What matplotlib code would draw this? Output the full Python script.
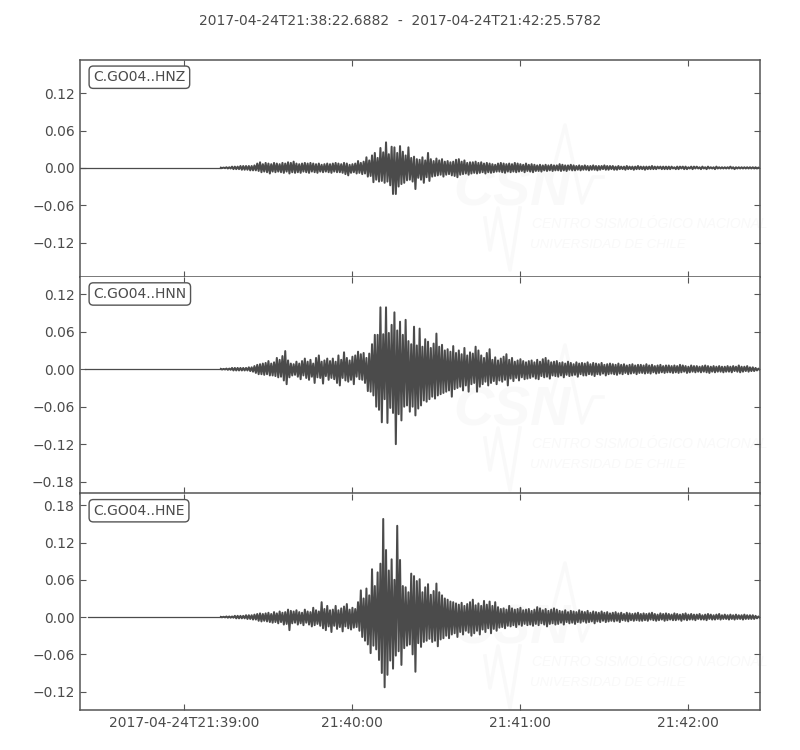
import numpy as np
import matplotlib
matplotlib.use('Agg')
import matplotlib.pyplot as plt

# 波形峰值，单位 1e-3，每秒一对，从 21:39:13 开始
hnz_up = [0.3,0.5,1,1,2,2,2,3,3,3, 3,3,4,7,9,6,8,7,6,8, 7,6,8,7,9,8,10,7,6,7, 8,7,8,7,6,7,5,6,7,6,
          7,8,7,6,8,7,5,6,7,11, 8,10,17,12,20,24,16,32,25,41, 22,34,33,24,35,26,20,33,16,18, 14,13,17,12,24,14,11,15,12,14,
          10,11,9,10,13,14,10,12,8,9, 9,10,8,9,7,8,7,6,5,7, 8,7,6,7,6,8,7,6,5,7, 5,6,5,4,5,4,5,4,5,4,
          4,6,5,4,4,5,4,3,4,3, 4,3,3,4,3,3,3,4,3,3, 3,2,3,2,2,3,2,2,2,3, 2,2,2,2,3,2,2,2,2,2,
          2,2,1,2,2,2,2,1,2,2, 2,1,2,1,2,1,1,2,1,1, 1,1,2,1,1,1,1,1,1,1, 1,1,0.5]
hnz_low = [0.3,0.5,1,1,2,2,2,3,3,3, 4,4,4,5,7,6,7,9,6,7, 6,7,8,6,9,7,8,7,8,6, 7,8,6,7,8,6,7,6,7,8,
           6,7,7,8,10,12,8,7,9,8, 10,9,14,13,23,19,22,21,24,22, 28,42,42,30,26,24,20,19,22,34, 16,19,24,15,21,14,13,12,11,14,
           11,10,12,13,15,11,10,9,11,9, 8,9,8,7,9,7,8,7,6,6, 7,8,6,7,6,7,6,5,7,5, 6,7,5,5,6,4,5,4,5,4,
           4,5,4,5,3,4,4,3,4,3, 3,4,3,3,4,3,2,3,3,2, 3,3,2,2,3,2,2,3,2,2, 2,3,2,2,2,2,1,2,2,2,
           2,1,2,2,1,2,2,1,2,1, 1,2,1,2,1,1,2,1,1,1, 1,1,1,2,1,1,1,1,1,1, 1,1,0.5]

hnn_up = [0.5,0.5,1,1,2,2,2,2,2,2, 3,3,5,7,8,9,10,13,9,11, 18,15,21,29,14,9,8,12,9,13, 17,12,15,9,18,22,12,14,17,13,
          17,12,22,15,27,18,14,20,22,28, 24,26,18,25,40,55,55,99,56,99, 58,71,91,62,76,55,79,45,40,68, 38,65,36,48,44,34,41,57,36,39,
          30,32,28,37,26,30,24,34,22,27, 25,36,30,22,18,26,32,15,19,14, 17,20,24,15,18,12,14,16,13,11, 13,14,11,15,12,16,18,14,11,12,
          13,10,11,9,12,10,8,11,9,10, 9,11,8,10,9,8,10,7,8,9, 8,7,9,7,8,6,7,8,6,7, 7,6,8,6,7,5,6,7,5,6,
          6,5,6,5,7,6,5,4,6,5, 5,4,5,6,5,4,5,4,5,4, 4,5,4,5,4,6,4,4,5,3, 3,2,1]
hnn_low = [0.5,0.5,1,1,2,2,2,2,2,2, 3,4,6,8,8,9,8,10,10,11, 13,12,18,24,13,10,9,12,16,10, 14,17,12,22,13,14,23,11,17,14,
           16,22,26,14,18,20,17,24,12,16, 17,22,35,36,42,60,65,85,48,86, 62,70,120,72,82,60,58,68,60,74, 63,58,50,52,48,44,47,42,40,38,
           36,34,44,32,30,28,34,26,36,24, 22,36,28,24,20,26,22,19,24,18, 20,17,26,15,19,14,18,13,16,15, 14,12,15,16,11,13,12,15,10,11,
           12,10,13,9,11,10,9,12,8,10, 10,8,9,11,8,9,7,10,8,7, 8,9,7,8,6,8,7,6,8,6, 6,7,6,7,5,7,6,5,6,5,
           5,6,5,6,5,4,6,5,4,5, 4,5,4,5,6,4,5,4,4,5, 4,4,5,3,4,5,4,3,4,3, 3,2,1]

hne_up = [0.3,0.5,1,1,1,2,2,2,2,3, 3,3,4,5,6,5,6,7,5,8, 6,9,7,8,12,10,9,11,8,7, 12,9,8,15,11,9,24,13,18,11,
          12,18,11,14,17,21,12,15,13,24, 43,30,46,35,77,50,72,86,158,108, 75,93,60,147,92,50,48,40,70,66, 58,61,40,48,53,36,42,54,40,35,
          30,28,25,24,22,20,23,18,21,24, 28,19,22,18,26,20,25,18,24,16, 13,14,12,18,14,12,13,15,11,12, 13,10,12,16,14,11,13,10,12,14,
          12,10,9,11,8,10,9,8,11,9, 8,10,7,9,8,7,9,7,8,6, 7,8,6,7,5,7,6,5,6,7, 5,6,5,6,7,5,4,6,5,6,
          5,4,6,5,4,5,6,4,5,4, 4,5,3,4,5,4,3,4,5,3, 4,3,4,3,4,3,3,4,3,3, 3,2,1]
hne_low = [0.3,0.5,1,1,1,2,2,2,2,3, 3,4,4,6,7,6,7,8,9,8, 10,8,12,11,21,10,9,12,10,13, 9,12,15,13,11,14,18,21,15,24,
           14,19,16,23,15,18,20,17,16,22, 32,38,44,58,46,52,69,90,113,93, 70,83,62,55,77,50,46,44,60,88, 42,48,40,38,35,40,38,47,36,34,
           30,34,28,26,32,24,28,22,25,30, 26,22,28,20,24,18,26,19,22,17, 16,18,14,15,13,16,12,14,11,13, 12,14,11,13,10,12,15,11,10,12,
           11,9,12,8,10,9,11,8,9,7, 9,8,7,10,7,8,6,8,7,6, 7,6,8,5,6,7,5,6,5,6, 6,5,6,4,5,6,5,4,6,5,
           4,5,5,4,6,4,5,4,4,5, 3,4,4,5,3,4,4,3,4,3, 3,4,3,4,3,3,4,3,3,3, 3,2,1]

stations = ['C.GO04..HNZ', 'C.GO04..HNN', 'C.GO04..HNE']
uppers = [hnz_up, hnn_up, hne_up]
lowers = [hnz_low, hnn_low, hne_low]
trace_starts = [-37.31, -35.5, -34.5]  # 相对 21:39:00 的秒数
ylims = [(-0.175, 0.1734), (-0.199, 0.148), (-0.15, 0.199)]
yticks = [[-0.12, -0.06, 0, 0.06, 0.12],
          [-0.18, -0.12, -0.06, 0, 0.06, 0.12],
          [-0.12, -0.06, 0, 0.06, 0.12, 0.18]]
xtick_pos = [0, 60, 120, 180]
xtick_labels = ['2017-04-24T21:39:00', '21:40:00', '21:41:00', '21:42:00']
title = '2017-04-24T21:38:22.6882  -  2017-04-24T21:42:25.5782'
xlim = (-37.31, 205.58)
first_peak = 13  # 21:39:13

dark = '#4b4b4b'
faint = '#f9f9f9'


def zigzag(up, low):
    t = first_peak + np.arange(len(up))
    x = np.column_stack([t, t + 0.5]).ravel()
    y = np.column_stack([np.array(up), -np.array(low)]).ravel() / 1000.0
    return x, y


# 水印，坐标是像素
def watermark(fig, ax, dy):
    def fx(px):
        return np.array(px) / 800.0

    def fy(py):
        return 1 - (np.array(py) + dy) / 750.0

    kw = dict(transform=fig.transFigure, color=faint, zorder=1, clip_on=False, family='Liberation Sans')
    ax.text(fx(453), fy(206), 'CSN', fontsize=40, fontweight='bold', fontstyle='italic', **kw)
    ax.text(fx(532), fy(228), 'CENTRO SISMOLÓGICO NACIONAL', fontsize=10, fontstyle='italic', **kw)
    ax.text(fx(530), fy(248), 'UNIVERSIDAD DE CHILE', fontsize=9.5, fontstyle='italic', **kw)
    ax.plot(fx([520, 510, 498, 490, 485]), fy([208, 270, 208, 250, 218]), lw=2.5,
            transform=fig.transFigure, color=faint, zorder=1)
    ax.plot(fx([550, 565, 582, 593, 603]), fy([183, 125, 203, 177, 177]), lw=2.5,
            transform=fig.transFigure, color=faint, zorder=1)


fig, axes = plt.subplots(3, 1, figsize=(8, 7.5), dpi=100, sharex=True)
fig.subplots_adjust(left=0.1, right=0.95, top=0.92, bottom=0.053, hspace=0)
dy_list = [0, 220, 438]

for i, ax in enumerate(axes):
    watermark(fig, ax, dy_list[i])
    x, y = zigzag(uppers[i], lowers[i])
    ax.plot([trace_starts[i], first_peak], [0, 0], color=dark, lw=0.9, zorder=2)
    ax.plot(x, y, color=dark, lw=1.45, zorder=2)
    ax.set_xlim(xlim)
    ax.set_ylim(ylims[i])
    ax.set_yticks(yticks[i])
    ax.set_yticklabels(['%.2f' % v if v >= 0 else '\u2212%.2f' % abs(v) for v in yticks[i]])
    ax.set_xticks(xtick_pos)
    ax.tick_params(direction='in', top=True, right=True, length=4.5, width=0.8,
                   color='#555555', labelcolor='#4b4b4b', labelsize=10, pad=4)
    for s in ax.spines.values():
        s.set_color('#555555')
        s.set_linewidth(1.1)
    if i > 0:
        ax.spines['top'].set_visible(False)  # 和上一格的底边重合
    ax.text(0.0195, 0.9205, stations[i], transform=ax.transAxes, fontsize=10, color='#4b4b4b',
            va='center', ha='left', zorder=5,
            bbox=dict(boxstyle='round,pad=0.3', fc='white', ec='#555555', lw=1.0))

axes[2].set_xticklabels(xtick_labels)
fig.text(0.5, 0.9715, title, ha='center', va='center', fontsize=10, color='#4b4b4b')

plt.savefig('out.png', dpi=100)
